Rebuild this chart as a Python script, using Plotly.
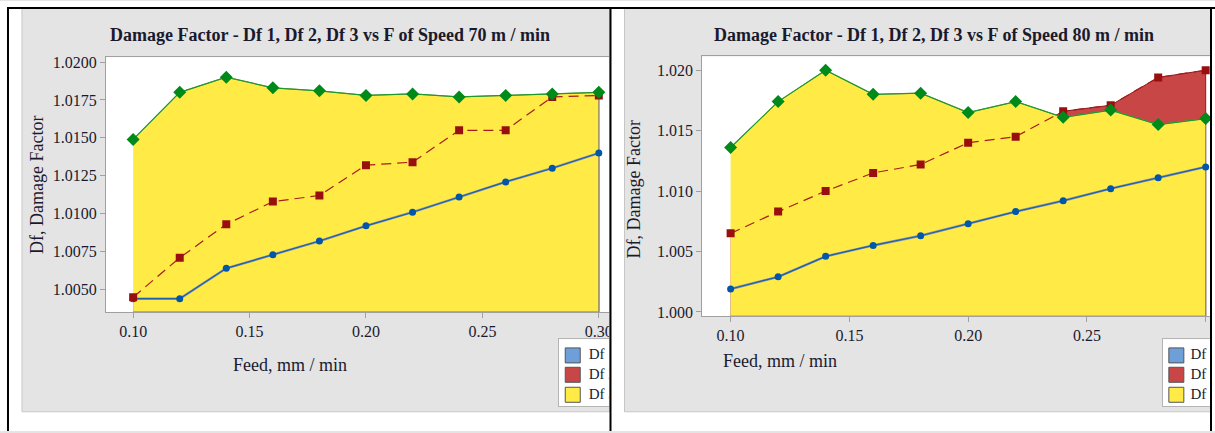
import plotly.graph_objects as go

W, H = 1215, 433

# ---------------- data ----------------
feed = [0.10, 0.12, 0.14, 0.16, 0.18, 0.20, 0.22, 0.24, 0.26, 0.28, 0.30]

df1_70 = [1.0044, 1.0044, 1.0064, 1.0073, 1.0082, 1.0092, 1.0101, 1.0111, 1.0121, 1.0130, 1.0140]
df2_70 = [1.0045, 1.0071, 1.0093, 1.0108, 1.0112, 1.0132, 1.0134, 1.0155, 1.0155, 1.0177, 1.0178]
df3_70 = [1.0149, 1.0180, 1.0190, 1.0183, 1.0181, 1.0178, 1.0179, 1.0177, 1.0178, 1.0179, 1.0180]

df1_80 = [1.0019, 1.0029, 1.0046, 1.0055, 1.0063, 1.0073, 1.0083, 1.0092, 1.0102, 1.0111, 1.0120]
df2_80 = [1.0065, 1.0083, 1.0100, 1.0115, 1.0122, 1.0140, 1.0145, 1.0166, 1.0171, 1.0194, 1.0200]
df3_80 = [1.0136, 1.0174, 1.0200, 1.0180, 1.0181, 1.0165, 1.0174, 1.0161, 1.0167, 1.0155, 1.0160]

series_names = ["Df 1", "Df 2", "Df 3"]
chart_titles = ["Damage Factor - Df 1, Df 2, Df 3 vs F of Speed 70 m / min",
                "Damage Factor - Df 1, Df 2, Df 3 vs F of Speed 80 m / min"]
x_title = "Feed, mm / min"
y_title = "Df, Damage Factor"

# ---------------- style ----------------
FONT = "Liberation Serif"
TXT = "#1a1a2e"
FILL = ["#6f9fd8", "#c84646", "#ffea46"]
FILL_EDGE = ["#7f8a90", "#8b1a1a", "#8a8a6a"]
LINE = ["#1a5fb0", "#a81c1c", "#1f9a2a"]
MARK = ["#0057aa", "#990f0f", "#008a1a"]
SYM = ["circle", "square", "diamond"]
MSIZE = [7, 8, 10]
DASH = ["solid", "10px,6px", "solid"]
AXC = "#a0a0a0"


def px(x):
    return x / W


def py(y):
    return 1 - y / H


panels = [
    dict(xa="x", ya="y", vals=[df1_70, df2_70, df3_70],
         xdom=[px(106), px(624)], xrng=[0.0883, 0.3106],
         ydom=[py(314), py(55)], yrng=[1.003528, 1.020324],
         dtick=0.0025, fmt=".4f"),
    dict(xa="x2", ya="y2", vals=[df1_80, df2_80, df3_80],
         xdom=[px(702.7), 1.0], xrng=[0.0880, 0.3035],
         ydom=[py(318.3), py(54.3)], yrng=[0.99965, 1.02114],
         dtick=0.005, fmt=".3f"),
]

fig = go.Figure()

for p in panels:
    base = p["yrng"][0]
    # filled areas (Df1, Df2, Df3 drawn in order, Df3 on top)
    for i, vals in enumerate(p["vals"]):
        fig.add_trace(go.Scatter(
            x=feed + [feed[-1], feed[0]], y=vals + [base, base],
            xaxis=p["xa"], yaxis=p["ya"], mode="lines", fill="toself",
            fillcolor=FILL[i], line=dict(color=FILL_EDGE[i], width=1),
            showlegend=False, hoverinfo="skip"))
    # grey shadow under Df1 line
    fig.add_trace(go.Scatter(
        x=feed, y=p["vals"][0], xaxis=p["xa"], yaxis=p["ya"], mode="lines",
        line=dict(color="#8a96a0", width=2.4), showlegend=False, hoverinfo="skip"))
    # connect lines with symbols
    for i, vals in enumerate(p["vals"]):
        fig.add_trace(go.Scatter(
            x=feed, y=vals, xaxis=p["xa"], yaxis=p["ya"], mode="lines+markers",
            name=series_names[i],
            line=dict(color=LINE[i], width=1.2, dash=DASH[i]),
            marker=dict(symbol=SYM[i], size=MSIZE[i], color=MARK[i], line=dict(width=0)),
            showlegend=False))

# ---------------- legends (clipped boxes as small subplots) ----------------
legends = [
    dict(xa="x3", ya="y3", xdom=[px(559.3), px(610)], kx=14.0, tx=30.0),
    dict(xa="x4", ya="y4", xdom=[px(1164), 1.0], kx=13.3, tx=27.5),
]
key_y = [16.5, 36.2, 56.5]
for lg in legends:
    fig.add_trace(go.Scatter(
        x=[lg["kx"]] * 3, y=key_y, xaxis=lg["xa"], yaxis=lg["ya"], mode="markers",
        marker=dict(symbol="square", size=15, color=FILL, line=dict(color="#555555", width=1)),
        showlegend=False, hoverinfo="skip"))
    fig.add_trace(go.Scatter(
        x=[lg["tx"]] * 3, y=key_y, xaxis=lg["xa"], yaxis=lg["ya"], mode="text",
        text=series_names, textposition="middle right",
        textfont=dict(family=FONT, size=15, color=TXT),
        showlegend=False, hoverinfo="skip"))

layout = dict(
    width=W, height=H, margin=dict(l=0, r=0, t=0, b=0),
    paper_bgcolor="#e4e4e4", plot_bgcolor="#ffffff",
    font=dict(family=FONT, size=16, color=TXT),
    showlegend=False,
)

axis_common = dict(showgrid=False, zeroline=False, showline=True, mirror=True,
                   linecolor=AXC, linewidth=1, ticks="outside", ticklen=5,
                   tickcolor=AXC, tickfont=dict(family=FONT, size=16, color=TXT))

for k, p in enumerate(panels):
    xn = "xaxis" if k == 0 else "xaxis2"
    yn = "yaxis" if k == 0 else "yaxis2"
    layout[xn] = dict(axis_common, domain=p["xdom"], range=p["xrng"], dtick=0.05,
                      tick0=0.0, tickformat=".2f", anchor=p["ya"])
    layout[yn] = dict(axis_common, domain=p["ydom"], range=p["yrng"], dtick=p["dtick"],
                      tick0=1.0, tickformat=p["fmt"], anchor=p["xa"])

for k, lg in enumerate(legends):
    xn = "xaxis%d" % (k + 3)
    yn = "yaxis%d" % (k + 3)
    layout[xn] = dict(domain=lg["xdom"], range=[0, 51], showgrid=False, zeroline=False,
                      showticklabels=False, ticks="", showline=True, mirror=True,
                      linecolor="#b4b4b4", anchor=lg["ya"], fixedrange=True)
    layout[yn] = dict(domain=[py(410), py(341.7)], range=[68.3, 0], showgrid=False,
                      zeroline=False, showticklabels=False, ticks="", showline=True,
                      mirror=True, linecolor="#b4b4b4", anchor=lg["xa"], fixedrange=True)

fig.update_layout(**layout)

# ---------------- annotations ----------------
ann = []
for cx, t in zip([330.5, 934.5], chart_titles):
    ann.append(dict(x=px(cx), y=py(33), xref="paper", yref="paper", text="<b>%s</b>" % t,
                    showarrow=False, font=dict(family=FONT, size=18, color=TXT),
                    xanchor="center", yanchor="middle"))
for cx, cy in [(290, 368), (781, 364)]:
    ann.append(dict(x=px(cx), y=py(cy), xref="paper", yref="paper", text=x_title,
                    showarrow=False, font=dict(family=FONT, size=18, color=TXT),
                    xanchor="center", yanchor="middle"))
for cx, cy in [(37, 185), (634, 189)]:
    ann.append(dict(x=px(cx), y=py(cy), xref="paper", yref="paper", text=y_title,
                    showarrow=False, textangle=-90, font=dict(family=FONT, size=18, color=TXT),
                    xanchor="center", yanchor="middle"))
fig.update_layout(annotations=ann)

# ---------------- page frame (white margins, panel borders, black rules) ----------------
shapes = []


def rect(x0, y0, x1, y1, fill=None, line=None, lw=0):
    d = dict(type="rect", xref="paper", yref="paper", layer="above",
             x0=px(x0), x1=px(x1), y0=py(y1), y1=py(y0))
    d["fillcolor"] = fill if fill else "rgba(0,0,0,0)"
    d["line"] = dict(color=line if line else "rgba(0,0,0,0)", width=lw)
    return d


def seg(x0, y0, x1, y1, color="#000000", lw=2):
    return dict(type="line", xref="paper", yref="paper", layer="above",
                x0=px(x0), x1=px(x1), y0=py(y0), y1=py(y1),
                line=dict(color=color, width=lw))


WHITE = "#ffffff"
shapes += [
    rect(-2, -2, 22, H + 2, fill=WHITE),
    rect(-2, -2, W + 2, 5, fill=WHITE),
    rect(-2, 415.5, W + 2, H + 2, fill=WHITE),
    rect(610, -2, 625, H + 2, fill=WHITE),
    rect(1212, -2, W + 2, H + 2, fill=WHITE),
    rect(22, 5, 610, 415.5, line="#c6c6c6", lw=1),
    rect(625, 5, 1212, 415.5, line="#c6c6c6", lw=1),
    seg(7, 5, W + 2, 5),
    seg(8, 4, 8, H + 2),
    seg(611, 4, 611, H + 2),
    seg(1212, 4, 1212, H + 2),
]
fig.update_layout(shapes=shapes)

fig.write_html("out.html", config={"displayModeBar": False},
               post_script="document.body.style.margin='0';document.body.style.overflow='hidden';")
